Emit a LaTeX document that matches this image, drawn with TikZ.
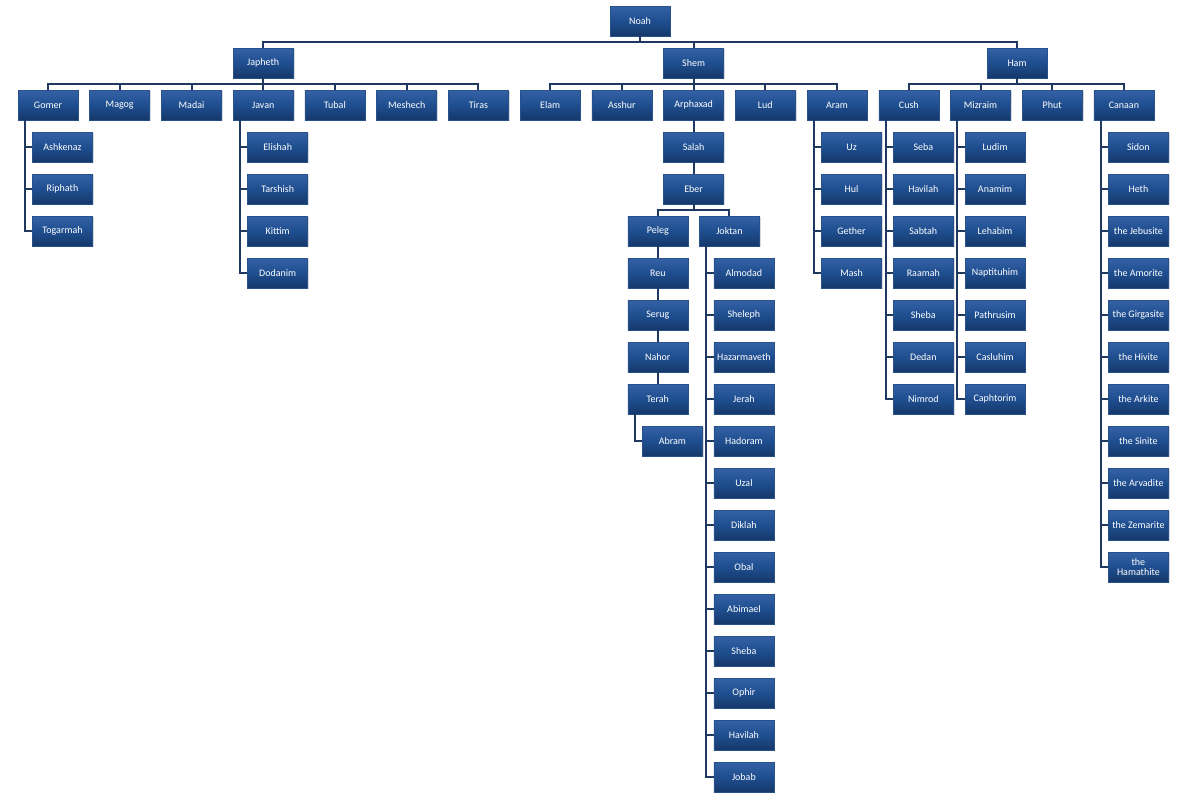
\documentclass[tikz,border=0pt]{standalone}
\usepackage{fontspec}
\setmainfont{Carlito}
\usetikzlibrary{shadows}
\definecolor{boxtop}{RGB}{52,98,166}
\definecolor{boxmid}{RGB}{31,78,143}
\definecolor{boxbot}{RGB}{21,56,106}
\definecolor{boxrim}{RGB}{40,80,140}
\definecolor{linkcol}{RGB}{30,56,96}
\begin{document}
\begin{tikzpicture}[x=0.75pt, y=-0.75pt,
    person/.style={draw=boxrim, line width=0.4pt, top color=boxtop, bottom color=boxbot, middle color=boxmid,
        minimum width=45pt, minimum height=22.5pt, inner sep=0pt, text=white, align=center,
        font=\fontsize{7.5}{8}\selectfont,
        drop shadow={opacity=0.3, shadow xshift=1pt, shadow yshift=-1pt}},
    link/.style={draw=linkcol, line width=1.5pt}
]
\useasboundingbox (0,0) rectangle (1194,804);

% --- Noah und Soehne ---
\node[person] (noah)    at (640,21) {Noah};
\node[person] (japheth) at (263.2,63) {Japheth};
\node[person] (shem)    at (693.6,63) {Shem};
\node[person] (ham)     at (1017,63) {Ham};
\draw[link] (noah.south) -- ++(0,6) -| (japheth.north);
\draw[link] (noah.south) -- ++(0,6) -| (shem.north);
\draw[link] (noah.south) -- ++(0,6) -| (ham.north);

% --- Japheth ---
\node[person] (gomer)   at (48,105) {Gomer};
\node[person] (magog)   at (119.7,105) {Magog};
\node[person] (madai)   at (191.5,105) {Madai};
\node[person] (javan)   at (263.2,105) {Javan};
\node[person] (tubal)   at (334.9,105) {Tubal};
\node[person] (meshech) at (406.7,105) {Meshech};
\node[person] (tiras)   at (478.4,105) {Tiras};
\draw[link] (japheth.south) -- ++(0,6) -| (gomer.north);
\draw[link] (japheth.south) -- ++(0,6) -| (magog.north);
\draw[link] (japheth.south) -- ++(0,6) -| (madai.north);
\draw[link] (japheth.south) -- (javan.north);
\draw[link] (japheth.south) -- ++(0,6) -| (tubal.north);
\draw[link] (japheth.south) -- ++(0,6) -| (meshech.north);
\draw[link] (japheth.south) -- ++(0,6) -| (tiras.north);

% --- Gomer ---
\node[person] (ashkenaz) at (62.5,147) {Ashkenaz};
\node[person] (riphath)  at (62.5,189) {Riphath};
\node[person] (togarmah) at (62.5,231) {Togarmah};
\draw[link] (gomer.south west) ++(7,0) |- (ashkenaz.west);
\draw[link] (gomer.south west) ++(7,0) |- (riphath.west);
\draw[link] (gomer.south west) ++(7,0) |- (togarmah.west);

% --- Javan ---
\node[person] (elishah)  at (277.7,147) {Elishah};
\node[person] (tarshish) at (277.7,189) {Tarshish};
\node[person] (kittim)   at (277.7,231) {Kittim};
\node[person] (dodanim)  at (277.7,273) {Dodanim};
\draw[link] (javan.south west) ++(7,0) |- (elishah.west);
\draw[link] (javan.south west) ++(7,0) |- (tarshish.west);
\draw[link] (javan.south west) ++(7,0) |- (kittim.west);
\draw[link] (javan.south west) ++(7,0) |- (dodanim.west);

% --- Shem ---
\node[person] (elam)     at (550.1,105) {Elam};
\node[person] (asshur)   at (621.8,105) {Asshur};
\node[person] (arphaxad) at (693.6,105) {Arphaxad};
\node[person] (lud)      at (765.3,105) {Lud};
\node[person] (aram)     at (837,105) {Aram};
\draw[link] (shem.south) -- ++(0,6) -| (elam.north);
\draw[link] (shem.south) -- ++(0,6) -| (asshur.north);
\draw[link] (shem.south) -- (arphaxad.north);
\draw[link] (shem.south) -- ++(0,6) -| (lud.north);
\draw[link] (shem.south) -- ++(0,6) -| (aram.north);

% --- Arphaxad bis Eber ---
\node[person] (salah) at (693.6,147) {Salah};
\node[person] (eber)  at (693.6,189) {Eber};
\draw[link] (arphaxad) -- (salah);
\draw[link] (salah) -- (eber);
\node[person] (peleg)  at (657.8,231) {Peleg};
\node[person] (joktan) at (729.4,231) {Joktan};
\draw[link] (eber.south) -- ++(0,6) -| (peleg.north);
\draw[link] (eber.south) -- ++(0,6) -| (joktan.north);

% --- Peleg bis Abram ---
\node[person] (reu)   at (657.8,273) {Reu};
\node[person] (serug) at (657.8,315) {Serug};
\node[person] (nahor) at (657.8,357) {Nahor};
\node[person] (terah) at (657.8,399) {Terah};
\node[person] (abram) at (672.3,441) {Abram};
\draw[link] (peleg) -- (reu);
\draw[link] (reu) -- (serug);
\draw[link] (serug) -- (nahor);
\draw[link] (nahor) -- (terah);
\draw[link] (terah.south west) ++(7,0) |- (abram.west);

% --- Joktan ---
\node[person] (almodad)     at (743.9,273) {Almodad};
\node[person] (sheleph)     at (743.9,315) {Sheleph};
\node[person] (hazarmaveth) at (743.9,357) {Hazarmaveth};
\node[person] (jerah)       at (743.9,399) {Jerah};
\node[person] (hadoram)     at (743.9,441) {Hadoram};
\node[person] (uzal)        at (743.9,483) {Uzal};
\node[person] (diklah)      at (743.9,525) {Diklah};
\node[person] (obal)        at (743.9,567) {Obal};
\node[person] (abimael)     at (743.9,609) {Abimael};
\node[person] (shebaj)      at (743.9,651) {Sheba};
\node[person] (ophir)       at (743.9,693) {Ophir};
\node[person] (havilahj)    at (743.9,735) {Havilah};
\node[person] (jobab)       at (743.9,777) {Jobab};
\draw[link] (joktan.south west) ++(7,0) |- (almodad.west);
\draw[link] (joktan.south west) ++(7,0) |- (sheleph.west);
\draw[link] (joktan.south west) ++(7,0) |- (hazarmaveth.west);
\draw[link] (joktan.south west) ++(7,0) |- (jerah.west);
\draw[link] (joktan.south west) ++(7,0) |- (hadoram.west);
\draw[link] (joktan.south west) ++(7,0) |- (uzal.west);
\draw[link] (joktan.south west) ++(7,0) |- (diklah.west);
\draw[link] (joktan.south west) ++(7,0) |- (obal.west);
\draw[link] (joktan.south west) ++(7,0) |- (abimael.west);
\draw[link] (joktan.south west) ++(7,0) |- (shebaj.west);
\draw[link] (joktan.south west) ++(7,0) |- (ophir.west);
\draw[link] (joktan.south west) ++(7,0) |- (havilahj.west);
\draw[link] (joktan.south west) ++(7,0) |- (jobab.west);

% --- Aram ---
\node[person] (uz)     at (851.5,147) {Uz};
\node[person] (hul)    at (851.5,189) {Hul};
\node[person] (gether) at (851.5,231) {Gether};
\node[person] (mash)   at (851.5,273) {Mash};
\draw[link] (aram.south west) ++(7,0) |- (uz.west);
\draw[link] (aram.south west) ++(7,0) |- (hul.west);
\draw[link] (aram.south west) ++(7,0) |- (gether.west);
\draw[link] (aram.south west) ++(7,0) |- (mash.west);

% --- Ham ---
\node[person] (cush)    at (908.8,105) {Cush};
\node[person] (mizraim) at (980.5,105) {Mizraim};
\node[person] (phut)    at (1052.2,105) {Phut};
\node[person] (canaan)  at (1123.9,105) {Canaan};
\draw[link] (ham.south) -- ++(0,6) -| (cush.north);
\draw[link] (ham.south) -- ++(0,6) -| (mizraim.north);
\draw[link] (ham.south) -- ++(0,6) -| (phut.north);
\draw[link] (ham.south) -- ++(0,6) -| (canaan.north);

% --- Cush ---
\node[person] (seba)     at (923.3,147) {Seba};
\node[person] (havilahc) at (923.3,189) {Havilah};
\node[person] (sabtah)   at (923.3,231) {Sabtah};
\node[person] (raamah)   at (923.3,273) {Raamah};
\node[person] (shebac)   at (923.3,315) {Sheba};
\node[person] (dedan)    at (923.3,357) {Dedan};
\node[person] (nimrod)   at (923.3,399) {Nimrod};
\draw[link] (cush.south west) ++(7,0) |- (seba.west);
\draw[link] (cush.south west) ++(7,0) |- (havilahc.west);
\draw[link] (cush.south west) ++(7,0) |- (sabtah.west);
\draw[link] (cush.south west) ++(7,0) |- (raamah.west);
\draw[link] (cush.south west) ++(7,0) |- (shebac.west);
\draw[link] (cush.south west) ++(7,0) |- (dedan.west);
\draw[link] (cush.south west) ++(7,0) |- (nimrod.west);

% --- Mizraim ---
\node[person] (ludim)      at (995,147) {Ludim};
\node[person] (anamim)     at (995,189) {Anamim};
\node[person] (lehabim)    at (995,231) {Lehabim};
\node[person] (naptuhim)   at (995,273) {Naptituhim};
\node[person] (pathrusim)  at (995,315) {Pathrusim};
\node[person] (casluhim)   at (995,357) {Casluhim};
\node[person] (caphtorim)  at (995,399) {Caphtorim};
\draw[link] (mizraim.south west) ++(7,0) |- (ludim.west);
\draw[link] (mizraim.south west) ++(7,0) |- (anamim.west);
\draw[link] (mizraim.south west) ++(7,0) |- (lehabim.west);
\draw[link] (mizraim.south west) ++(7,0) |- (naptuhim.west);
\draw[link] (mizraim.south west) ++(7,0) |- (pathrusim.west);
\draw[link] (mizraim.south west) ++(7,0) |- (casluhim.west);
\draw[link] (mizraim.south west) ++(7,0) |- (caphtorim.west);

% --- Canaan ---
\node[person] (sidon)     at (1138.4,147) {Sidon};
\node[person] (heth)      at (1138.4,189) {Heth};
\node[person] (jebusite)  at (1138.4,231) {the Jebusite};
\node[person] (amorite)   at (1138.4,273) {the Amorite};
\node[person] (girgasite) at (1138.4,315) {the Girgasite};
\node[person] (hivite)    at (1138.4,357) {the Hivite};
\node[person] (arkite)    at (1138.4,399) {the Arkite};
\node[person] (sinite)    at (1138.4,441) {the Sinite};
\node[person] (arvadite)  at (1138.4,483) {the Arvadite};
\node[person] (zemarite)  at (1138.4,525) {the Zemarite};
\node[person] (hamathite) at (1138.4,567) {the\\Hamathite};
\draw[link] (canaan.south west) ++(7,0) |- (sidon.west);
\draw[link] (canaan.south west) ++(7,0) |- (heth.west);
\draw[link] (canaan.south west) ++(7,0) |- (jebusite.west);
\draw[link] (canaan.south west) ++(7,0) |- (amorite.west);
\draw[link] (canaan.south west) ++(7,0) |- (girgasite.west);
\draw[link] (canaan.south west) ++(7,0) |- (hivite.west);
\draw[link] (canaan.south west) ++(7,0) |- (arkite.west);
\draw[link] (canaan.south west) ++(7,0) |- (sinite.west);
\draw[link] (canaan.south west) ++(7,0) |- (arvadite.west);
\draw[link] (canaan.south west) ++(7,0) |- (zemarite.west);
\draw[link] (canaan.south west) ++(7,0) |- (hamathite.west);

\end{tikzpicture}
\end{document}
